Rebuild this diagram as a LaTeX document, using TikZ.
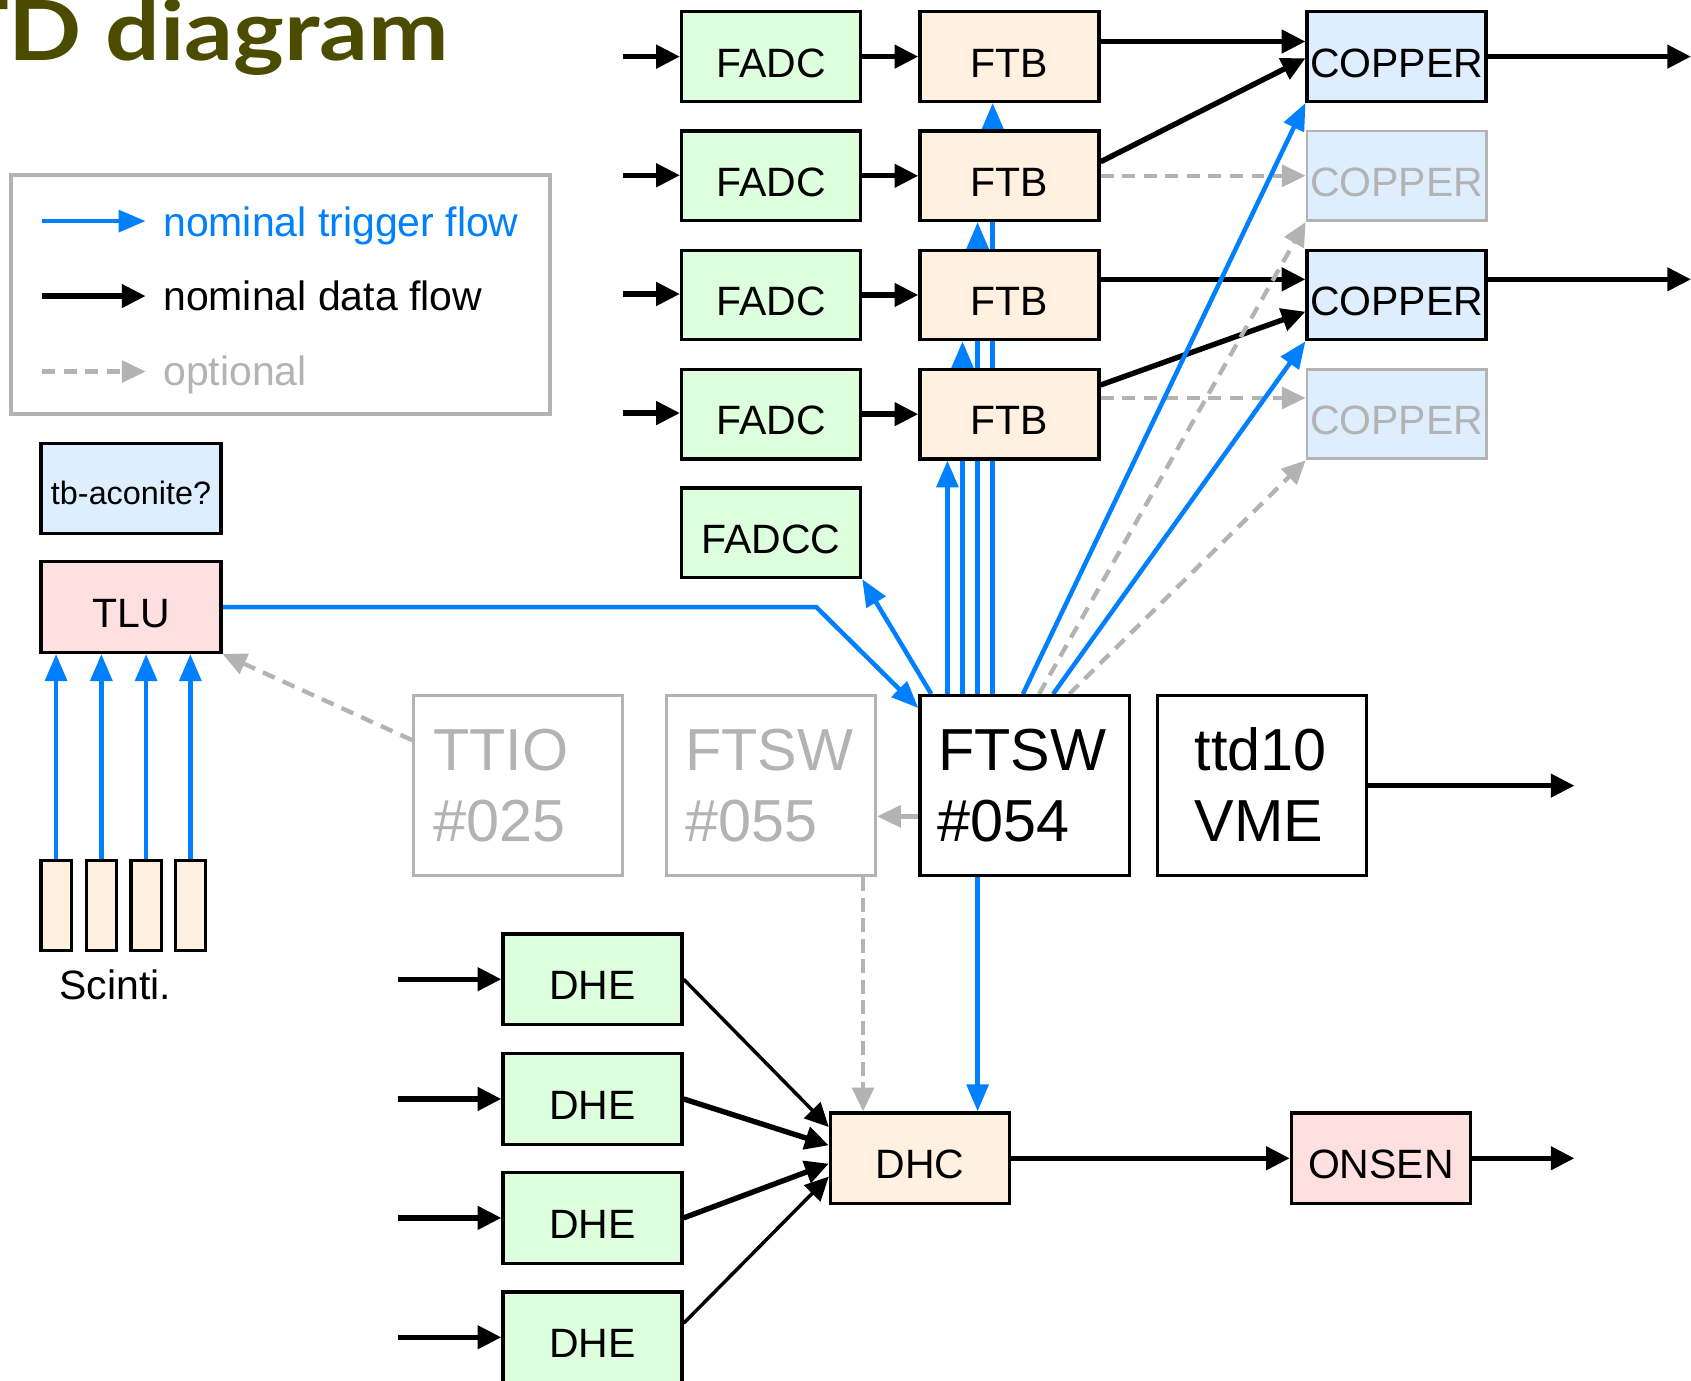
\documentclass[tikz,border=0pt]{standalone}
\usepackage{fontspec}
\setmainfont{Liberation Sans}
\newfontfamily\titlefont{Lato}
\usetikzlibrary{arrows.meta,calc,backgrounds}
\definecolor{tblue}{RGB}{0,128,255}
\definecolor{gry}{RGB}{179,179,179}
\definecolor{ttlcol}{RGB}{76,76,0}
\definecolor{fgreen}{RGB}{221,255,221}
\definecolor{fpeach}{RGB}{255,240,224}
\definecolor{fblue}{RGB}{222,238,255}
\definecolor{fpink}{RGB}{255,224,224}
\begin{document}
\begin{tikzpicture}[x=0.5pt,y=-0.5pt,
  bx/.style={rectangle, draw=black, line width=1.5pt, inner sep=0pt, minimum width=83pt, minimum height=41.5pt,
    font=\fontsize{19}{22}\selectfont, text height=19pt, text depth=0pt},
  gbx/.style={bx, draw=gry, text=gry, line width=1.3pt},
  bigtxt/.style={anchor=base west, inner sep=0pt, font=\fontsize{27.5}{33}\selectfont},
  lgtxt/.style={anchor=base west, inner sep=0pt, font=\fontsize{19}{22}\selectfont},
  trg/.style={draw=tblue, line width=2.1pt, -{Triangle[length=12.5pt,width=10pt]}},
  blk/.style={draw=black, line width=2.5pt, -{Triangle[length=11pt,width=10.5pt]}},
  blkthin/.style={blk, line width=1.6pt},
  opt/.style={draw=gry, line width=2pt, dash pattern=on 6pt off 4pt, -{Triangle[length=11pt,width=10pt]}},
  optlong/.style={opt, dash pattern=on 6.5pt off 3pt},
  gsolid/.style={draw=gry, line width=2pt, -{Triangle[length=11pt,width=10pt]}}
]
\useasboundingbox (0,0) rectangle (1568,1280);
\begin{scope}
\clip (0,0) rectangle (1568,1280);
\node[anchor=base east, text=ttlcol, inner sep=0pt, font=\titlefont\bfseries\fontsize{38.5}{42}\selectfont] (title) at (417,56) {\scalebox{1.16}[1]{TD diagram}};
\end{scope}

% legend
\node[draw=gry, line width=2pt, minimum width=250pt, minimum height=111pt, inner sep=0pt] (legend) at (260,273) {};
\coordinate (l1a) at (39,205); \coordinate (l1b) at (135,205);
\coordinate (l2a) at (39,274.5); \coordinate (l2b) at (135,274.5);
\coordinate (l3a) at (39,344.5); \coordinate (l3b) at (135,344.5);
\node[lgtxt, text=tblue] (lgt1) at (151,219.5) {nominal trigger flow};
\node[lgtxt] (lgt2) at (151,288) {nominal data flow};
\node[lgtxt, text=gry] (lgt3) at (151,357) {optional};

% FADC / FTB / COPPER
\node[bx, fill=fgreen] (fadc1) at (715,52.5) {FADC};
\node[bx, fill=fgreen] (fadc2) at (715,163) {FADC};
\node[bx, fill=fgreen] (fadc3) at (715,273.5) {FADC};
\node[bx, fill=fgreen] (fadc4) at (715,384) {FADC};
\node[bx, fill=fgreen] (fadcc) at (715,494) {FADCC};
\node[bx, fill=fpeach] (ftb1) at (936,52.5) {FTB};
\node[bx, fill=fpeach] (ftb2) at (936,163) {FTB};
\node[bx, fill=fpeach] (ftb3) at (936,273.5) {FTB};
\node[bx, fill=fpeach] (ftb4) at (936,384) {FTB};
\node[bx, fill=fblue] (copper1) at (1295,52.5) {COPPER};
\node[gbx, fill=fblue] (copper2) at (1295,163) {COPPER};
\node[bx, fill=fblue] (copper3) at (1295,273.5) {COPPER};
\node[gbx, fill=fblue] (copper4) at (1295,384) {COPPER};

% left side
\node[bx, fill=fblue, minimum width=83.5pt, minimum height=42pt, font=\fontsize{15}{18}\selectfont, text height=14.5pt] (tbac) at (121.5,453) {tb-aconite?};
\node[bx, fill=fpink, minimum width=83.5pt, minimum height=42pt] (tlu) at (121.5,563) {TLU};
\node[bx, fill=fpeach, minimum width=14pt] (sc1) at (52,839.5) {};
\node[bx, fill=fpeach, minimum width=14pt] (sc2) at (94,839.5) {};
\node[bx, fill=fpeach, minimum width=14pt] (sc3) at (135.5,839.5) {};
\node[bx, fill=fpeach, minimum width=14pt] (sc4) at (176.5,839.5) {};
\node[anchor=base, inner sep=0pt, font=\fontsize{19}{22}\selectfont] (scl) at (107,927) {Scinti.};

% big boxes
\node[gbx, fill=white, minimum width=97pt, minimum height=83.5pt] (ttio) at (480.5,728.5) {};
\node[gbx, fill=white, minimum width=97pt, minimum height=83.5pt] (ftswb) at (715,728.5) {};
\node[bx, fill=white, minimum width=97pt, minimum height=83.5pt] (ftsw) at (950,728.5) {};
\node[bx, fill=white, minimum width=97pt, minimum height=83.5pt] (ttd) at (1170,728.5) {};
\node[bigtxt, text=gry] (ttioA) at ($(ttio.north west)+(19,71)$) {TTIO};
\node[bigtxt, text=gry] (ttioB) at ($(ttio.north west)+(19,137)$) {\#025};
\node[bigtxt, text=gry] (ftswbA) at ($(ftswb.north west)+(18.5,71)$) {FTSW};
\node[bigtxt, text=gry] (ftswbB) at ($(ftswb.north west)+(18.5,137)$) {\#055};
\node[bigtxt] (ftswA) at ($(ftsw.north west)+(18,71)$) {FTSW};
\node[bigtxt] (ftswB) at ($(ftsw.north west)+(17,137)$) {\#054};
\node[bigtxt] (ttdA) at ($(ttd.north west)+(36,71)$) {ttd10};
\node[bigtxt] (ttdB) at ($(ttd.north west)+(36,137)$) {VME};

% bottom
\node[bx, fill=fgreen, minimum height=42pt] (dhe1) at (549.4,908) {DHE};
\node[bx, fill=fgreen, minimum height=42pt] (dhe2) at (549.4,1019) {DHE};
\node[bx, fill=fgreen, minimum height=42pt] (dhe3) at (549.4,1129.3) {DHE};
\node[bx, fill=fgreen, minimum height=42pt] (dhe4) at (549.4,1240) {DHE};
\node[bx, fill=fpeach, minimum height=42pt] (dhc) at (853,1074) {DHC};
\node[bx, fill=fpink, minimum height=42pt] (onsen) at (1280.5,1074) {ONSEN};

% free ends
\coordinate (in1) at (578,52.5); \coordinate (in2) at (578,162.5);
\coordinate (in3) at (578,272.6); \coordinate (in4) at (578,383);
\coordinate (co1) at (1568,52.5); \coordinate (co3) at (1568,259);
\coordinate (ttdout) at (1460,728.5); \coordinate (onout) at (1460,1074);
\coordinate (dhin1) at (369,908); \coordinate (dhin2) at (369,1019);
\coordinate (dhin3) at (369,1129.3); \coordinate (dhin4) at (369,1240);
\coordinate (tlubend) at (757,563);

\coordinate (f1o) at ($(ftb1.east)+(0,-14)$);
\coordinate (f3o) at ($(ftb3.east)+(0,-14.5)$);
\coordinate (f4o) at ($(ftb4.east)+(0,-15)$);
\coordinate (c3o) at ($(copper3.east)+(0,-14.5)$);
\coordinate (s1) at ($(ftsw.north west)+(27,0)$);
\coordinate (s2) at ($(ftsw.north west)+(41,0)$);
\coordinate (s3) at ($(ftsw.north west)+(55,0)$);
\coordinate (s4) at ($(ftsw.north west)+(69,0)$);
\coordinate (sw) at ($(ftsw.west)+(0,28.5)$);
\coordinate (fb) at ($(ftswb.south east)+(-13,0)$);
\coordinate (fd) at ($(ftsw.south west)+(55,0)$);

\begin{scope}[on background layer]
\draw[trg] (l1a) -- (l1b);
\draw[blk] (l2a) -- (l2b);
\draw[opt] (l3a) -- (l3b);

\foreach \k in {1,2,3,4} {
  \draw[blk] (in\k) -- (in\k -| fadc\k.west);
  \draw[blk] (fadc\k) -- (ftb\k);
}
\draw[blk] (f1o) -- (f1o -| copper1.west);
\draw[blk] ($(ftb2.east)+(0,-13)$) -- ($(copper1.west)+(0,1.5)$);
\draw[opt] (ftb2) -- (copper2);
\draw[blk] (f3o) -- (f3o -| copper3.west);
\draw[blk] ($(ftb4.east)+(0,-27)$) -- ($(copper3.west)+(0,15.5)$);
\draw[opt] (f4o) -- (f4o -| copper4.west);
\draw[blk] (copper1) -- (co1);
\draw[blk] (c3o) -- (co3);

\draw[trg] (s1) -- (s1 |- ftb4.south);
\draw[trg] (s2) -- (s2 |- ftb3.south);
\draw[trg] (s3) -- (s3 |- ftb2.south);
\draw[trg] (s4) -- (s4 |- ftb1.south);
\draw[trg] ($(ftsw.north west)+(12,0)$) -- (fadcc.south east);
\draw[trg] ($(ftsw.north west)+(97,0)$) -- (copper1.south west);
\draw[opt] ($(ftsw.north west)+(112,0)$) -- (copper2.south west);
\draw[trg] ($(ftsw.north west)+(125,0)$) -- (copper3.south west);
\draw[opt] ($(ftsw.north west)+(140,0)$) -- (copper4.south west);

\draw[trg] (tlu.east) -- (tlubend) -- ($(ftsw.north west)+(0,13)$);
\foreach \k in {1,2,3,4} {
  \draw[trg] (sc\k.north) -- (sc\k.north |- tlu.south);
}
\draw[opt] ($(ttio.north west)+(0,42.6)$) -- (tlu.south east);
\draw[gsolid] (sw) -- (sw -| ftswb.east);
\draw[optlong] (fb) -- (fb |- dhc.north);
\draw[trg] (fd) -- (fd |- dhc.north);
\draw[blk] (ttd) -- (ttdout);

\foreach \k in {1,2,3,4} {
  \draw[blk] (dhin\k) -- (dhin\k -| dhe\k.west);
}
\draw[blkthin] (dhe1.east) -- ($(dhc.west)+(0,-29)$);
\draw[blk] (dhe2.east) -- ($(dhc.west)+(0,-12)$);
\draw[blk] (dhe3.east) -- ($(dhc.west)+(0,5)$);
\draw[blkthin] ($(dhe4.east)+(0,-13)$) -- ($(dhc.west)+(0,17)$);
\draw[blk] (dhc) -- (onsen);
\draw[blk] (onsen) -- (onout);
\end{scope}
\end{tikzpicture}
\end{document}
